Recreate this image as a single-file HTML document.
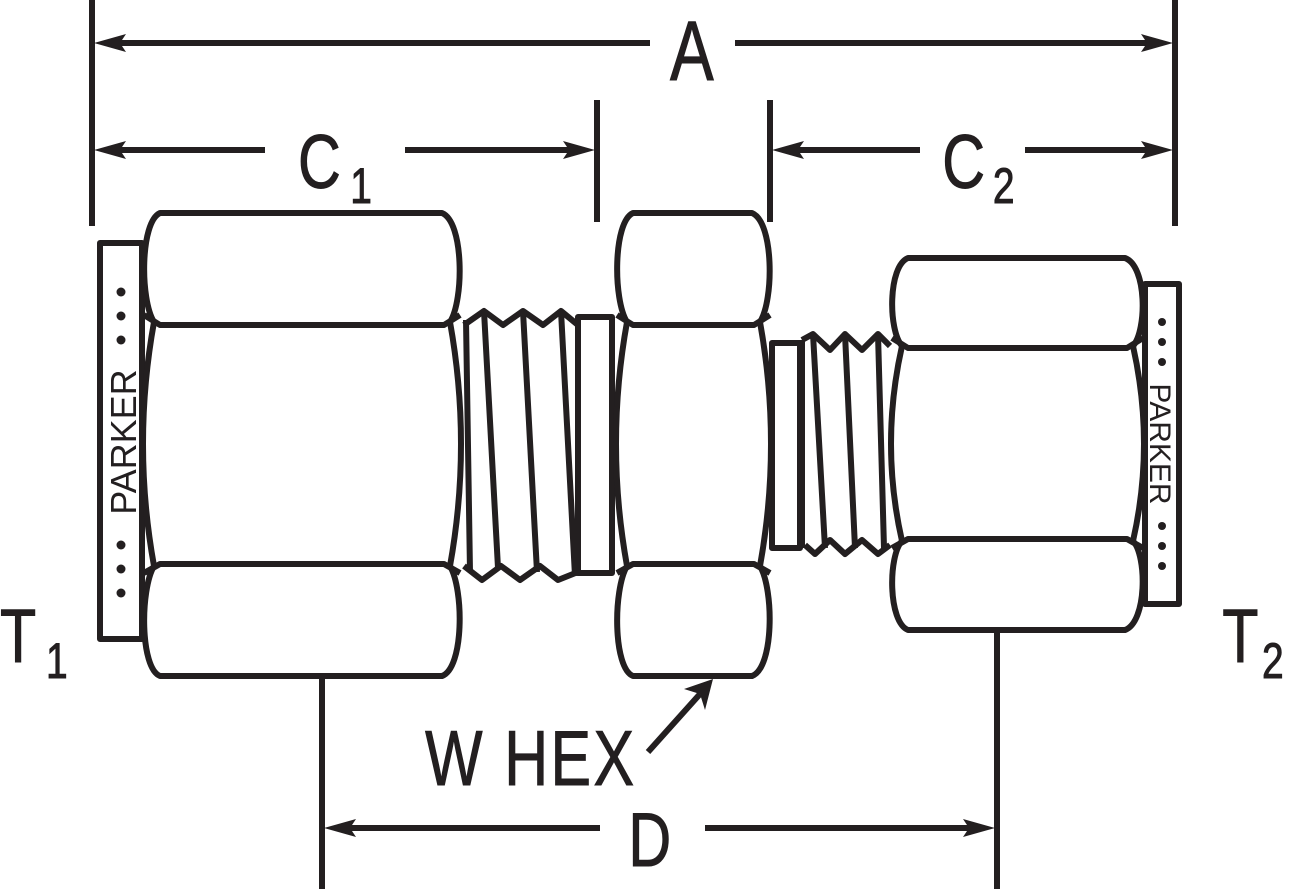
<!DOCTYPE html>
<html><head><meta charset="utf-8"><style>
html,body{margin:0;padding:0;background:#fff;}
svg{display:block;}
text{font-family:"Liberation Sans",sans-serif;fill:#231f20;}
</style></head><body>
<svg width="1292" height="889" viewBox="0 0 1292 889" xmlns="http://www.w3.org/2000/svg">
<g stroke="#231f20" stroke-width="6" fill="none" stroke-linejoin="round">
<line x1="92" y1="0" x2="92" y2="226"/>
<line x1="1175" y1="0" x2="1175" y2="226"/>
<line x1="597" y1="100" x2="597" y2="222"/>
<line x1="770" y1="100" x2="770" y2="222"/>
<line x1="322" y1="612" x2="322" y2="889"/>
<line x1="997" y1="612" x2="997" y2="889"/>
<line x1="650" y1="43" x2="110" y2="43"/>
<line x1="735" y1="43" x2="1157" y2="43"/>
<line x1="265" y1="150" x2="110" y2="150"/>
<line x1="405" y1="150" x2="580" y2="150"/>
<line x1="920" y1="150" x2="788" y2="150"/>
<line x1="1025" y1="150" x2="1157" y2="150"/>
<line x1="600" y1="828" x2="340" y2="828"/>
<line x1="705" y1="828" x2="980" y2="828"/>
<line x1="648" y1="752" x2="700" y2="694"/>

<rect x="100" y="243" width="42" height="396" fill="#fff"/>
<rect x="1145" y="284" width="34" height="320" fill="#fff"/>

<path d="M464,325 L484,311 L503,325 L523,311 L543,325 L561,311 L578,325 M464,566 L482,580 L501,566 L520,580 L540,566 L558,580 L578,572"/>
<path d="M466,320 L470,572 M484,311 L498,568 M523,311 L537,572 M561,311 L575,576"/>
<rect x="578" y="317" width="34" height="256"/>
<rect x="772" y="343" width="28" height="205"/>
<path d="M802,340 L813,334 L830,350 L845,334 L862,350 L878,334 L890,346 M805,545 L815,554 L830,540 L845,554 L862,540 L878,554 L890,545"/>
<path d="M802,340 L802,548 M813,334 L825,548 M845,334 L855,548 M878,334 L884,548"/>

<g fill="#fff">
<path d="M160,213 L442,213 C464,222 464,300 450,322 Q472,444 450,566 C464,590 464,668 442,676 L160,676 C140,668 140,590 154,566 Q132,444 154,322 C140,300 140,222 160,213 Z"/>
<path d="M633,213 L752,213 C774,222 774,300 760,322 Q782,444 760,566 C774,590 774,668 752,676 L633,676 C613,668 613,590 627,566 Q605,444 627,322 C613,300 613,222 633,213 Z"/>
<path d="M908,258 L1125,258 C1147,266 1147,330 1133,346 Q1155,444 1133,541 C1147,556 1147,622 1125,630 L908,630 C888,622 888,556 902,541 Q880,444 902,346 C888,330 888,266 908,258 Z"/>
</g>
<path d="M144,315 L160,325 L444,325 L460,315 M144,573 L160,564 L444,564 L460,573"/>
<path d="M617,315 L633,325 L754,325 L770,315 M617,573 L633,564 L754,564 L770,573"/>
<path d="M892,338 L908,348 L1127,348 L1143,338 M892,548 L908,539 L1127,539 L1143,548"/>
</g>
<g fill="#231f20">
<polygon points="94,43 126,34 120,43 126,52"/>
<polygon points="1173,43 1141,34 1147,43 1141,52"/>
<polygon points="94,150 126,141 120,150 126,159"/>
<polygon points="595,150 563,141 569,150 563,159"/>
<polygon points="772,150 804,141 798,150 804,159"/>
<polygon points="1173,150 1141,141 1147,150 1141,159"/>
<polygon points="324,828 356,819 350,828 356,837"/>
<polygon points="995,828 963,819 969,828 963,837"/>
<polygon points="713,679 705,710 700,694 684,689"/>
<circle cx="121" cy="292" r="4.5"/><circle cx="121" cy="316" r="4.5"/><circle cx="121" cy="340" r="4.5"/>
<circle cx="121" cy="545" r="4.5"/><circle cx="121" cy="569" r="4.5"/><circle cx="121" cy="593" r="4.5"/>
<circle cx="1162" cy="322" r="4"/><circle cx="1162" cy="342" r="4"/><circle cx="1162" cy="362" r="4"/>
<circle cx="1162" cy="526" r="4"/><circle cx="1162" cy="546" r="4"/><circle cx="1162" cy="566" r="4"/>
</g>
<text transform="translate(136,442) rotate(-90)" font-size="36" text-anchor="middle">PARKER</text>
<text transform="translate(1150,444) rotate(90)" font-size="30" text-anchor="middle">PARKER</text>

<g transform="scale(0.78,1)" stroke="#231f20" stroke-width="1">
<text x="887" y="80" font-size="84" text-anchor="middle">A</text>
<text x="382" y="188" font-size="76">C</text>
<text x="449" y="203" font-size="50">1</text>
<text x="1208" y="188" font-size="76">C</text>
<text x="1273" y="203" font-size="50">2</text>
<text x="833" y="866" font-size="76" text-anchor="middle">D</text>
<text x="545" y="785" font-size="78" textLength="268" lengthAdjust="spacing">W HEX</text>
<text x="0" y="662" font-size="76">T</text>
<text x="59" y="678" font-size="50">1</text>
<text x="1567" y="662" font-size="76">T</text>
<text x="1618" y="678" font-size="50">2</text>
</g>
</svg>
</body></html>
